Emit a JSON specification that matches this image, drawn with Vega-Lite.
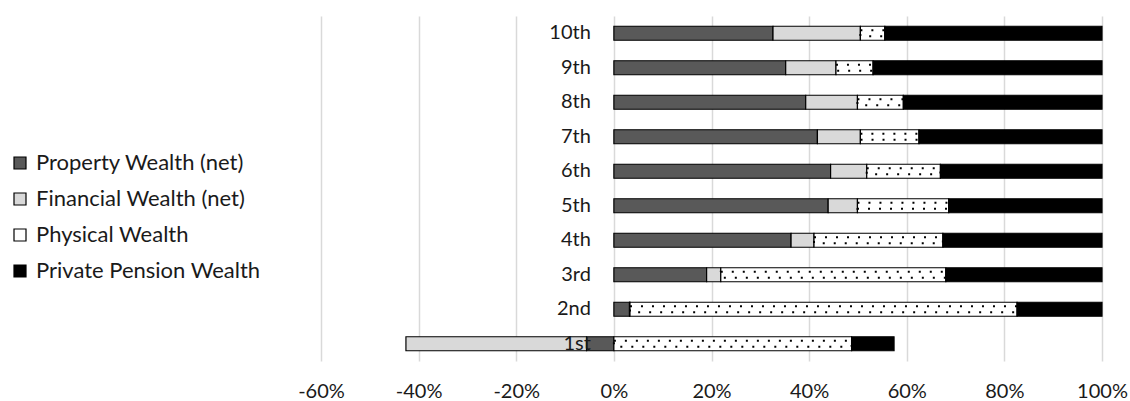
{
  "$schema": "https://vega.github.io/schema/vega-lite/v6.json",
  "width": 781,
  "height": 345,
  "autosize": {"type": "none"},
  "padding": {"left": 321, "top": 16, "right": 28, "bottom": 40},
  "config": {"font": "Lato", "view": {"stroke": null}},
  "data": {
    "values": [
      {"decile": "10th", "cat": "Property Wealth (net)", "ord": 1, "share": 32.6},
      {"decile": "10th", "cat": "Financial Wealth (net)", "ord": 2, "share": 17.9},
      {"decile": "10th", "cat": "Physical Wealth", "ord": 3, "share": 5.0},
      {"decile": "10th", "cat": "Private Pension Wealth", "ord": 4, "share": 44.5},
      {"decile": "9th", "cat": "Property Wealth (net)", "ord": 1, "share": 35.2},
      {"decile": "9th", "cat": "Financial Wealth (net)", "ord": 2, "share": 10.3},
      {"decile": "9th", "cat": "Physical Wealth", "ord": 3, "share": 7.6},
      {"decile": "9th", "cat": "Private Pension Wealth", "ord": 4, "share": 46.9},
      {"decile": "8th", "cat": "Property Wealth (net)", "ord": 1, "share": 39.3},
      {"decile": "8th", "cat": "Financial Wealth (net)", "ord": 2, "share": 10.6},
      {"decile": "8th", "cat": "Physical Wealth", "ord": 3, "share": 9.4},
      {"decile": "8th", "cat": "Private Pension Wealth", "ord": 4, "share": 40.7},
      {"decile": "7th", "cat": "Property Wealth (net)", "ord": 1, "share": 41.7},
      {"decile": "7th", "cat": "Financial Wealth (net)", "ord": 2, "share": 8.8},
      {"decile": "7th", "cat": "Physical Wealth", "ord": 3, "share": 12.0},
      {"decile": "7th", "cat": "Private Pension Wealth", "ord": 4, "share": 37.5},
      {"decile": "6th", "cat": "Property Wealth (net)", "ord": 1, "share": 44.4},
      {"decile": "6th", "cat": "Financial Wealth (net)", "ord": 2, "share": 7.4},
      {"decile": "6th", "cat": "Physical Wealth", "ord": 3, "share": 15.1},
      {"decile": "6th", "cat": "Private Pension Wealth", "ord": 4, "share": 33.1},
      {"decile": "5th", "cat": "Property Wealth (net)", "ord": 1, "share": 43.9},
      {"decile": "5th", "cat": "Financial Wealth (net)", "ord": 2, "share": 6.0},
      {"decile": "5th", "cat": "Physical Wealth", "ord": 3, "share": 18.7},
      {"decile": "5th", "cat": "Private Pension Wealth", "ord": 4, "share": 31.4},
      {"decile": "4th", "cat": "Property Wealth (net)", "ord": 1, "share": 36.3},
      {"decile": "4th", "cat": "Financial Wealth (net)", "ord": 2, "share": 4.7},
      {"decile": "4th", "cat": "Physical Wealth", "ord": 3, "share": 26.4},
      {"decile": "4th", "cat": "Private Pension Wealth", "ord": 4, "share": 32.6},
      {"decile": "3rd", "cat": "Property Wealth (net)", "ord": 1, "share": 19.0},
      {"decile": "3rd", "cat": "Financial Wealth (net)", "ord": 2, "share": 2.9},
      {"decile": "3rd", "cat": "Physical Wealth", "ord": 3, "share": 46.1},
      {"decile": "3rd", "cat": "Private Pension Wealth", "ord": 4, "share": 32.0},
      {"decile": "2nd", "cat": "Property Wealth (net)", "ord": 1, "share": 3.2},
      {"decile": "2nd", "cat": "Financial Wealth (net)", "ord": 2, "share": 0.1},
      {"decile": "2nd", "cat": "Physical Wealth", "ord": 3, "share": 79.3},
      {"decile": "2nd", "cat": "Private Pension Wealth", "ord": 4, "share": 17.4},
      {"decile": "1st", "cat": "Property Wealth (net)", "ord": 1, "share": -5.6},
      {"decile": "1st", "cat": "Financial Wealth (net)", "ord": 2, "share": -37.0},
      {"decile": "1st", "cat": "Physical Wealth", "ord": 3, "share": 48.7},
      {"decile": "1st", "cat": "Private Pension Wealth", "ord": 4, "share": 8.7}
    ]
  },
  "encoding": {
    "y": {
      "field": "decile",
      "type": "nominal",
      "sort": ["10th", "9th", "8th", "7th", "6th", "5th", "4th", "3rd", "2nd", "1st"],
      "axis": null,
      "scale": {"paddingInner": 0, "paddingOuter": 0}
    },
    "x": {
      "field": "share",
      "type": "quantitative",
      "stack": "zero",
      "scale": {"domain": [-60, 100], "nice": false, "zero": false},
      "axis": {
        "values": [-60, -40, -20, 0, 20, 40, 60, 80, 100],
        "labelExpr": "datum.value + '%'",
        "title": null,
        "grid": true,
        "gridColor": "#d9d9d9",
        "gridWidth": 1.5,
        "domain": false,
        "ticks": false,
        "labelFlush": false,
        "labelFontSize": 20,
        "labelColor": "#1a1a1a",
        "labelPadding": 20
      }
    },
    "order": {"field": "ord", "type": "quantitative"}
  },
  "layer": [
    {
      "mark": {"type": "bar", "height": 14, "stroke": "black", "strokeWidth": 1.2},
      "encoding": {
        "color": {
          "field": "cat",
          "type": "nominal",
          "scale": {
            "domain": ["Property Wealth (net)", "Financial Wealth (net)", "Physical Wealth", "Private Pension Wealth"],
            "range": ["#595959", "#d9d9d9", "#ffffff", "#000000"]
          },
          "legend": {
            "orient": "none",
            "legendX": -312,
            "legendY": 136,
            "title": null,
            "labelFontSize": 22,
            "labelLimit": 0,
            "labelColor": "#1a1a1a",
            "symbolType": "square",
            "symbolSize": 144,
            "symbolStrokeColor": "black",
            "symbolStrokeWidth": 1.2,
            "symbolOpacity": 1,
            "labelOffset": 5,
            "rowPadding": 14
          }
        }
      }
    },
    {
      "mark": {"type": "bar", "height": 6, "fillOpacity": 0, "stroke": "black", "strokeWidth": 2, "strokeDash": [2, 9]},
      "encoding": {
        "strokeOpacity": {
          "condition": {"test": "datum.cat === 'Physical Wealth'", "value": 1},
          "value": 0
        }
      }
    },
    {
      "transform": [{"filter": "datum.cat === 'Property Wealth (net)'"}],
      "mark": {"type": "text", "align": "right", "baseline": "middle", "dx": -23, "fontSize": 20, "color": "#1a1a1a"},
      "encoding": {
        "x": {"datum": 0, "type": "quantitative"},
        "text": {"field": "decile"}
      }
    }
  ]
}
